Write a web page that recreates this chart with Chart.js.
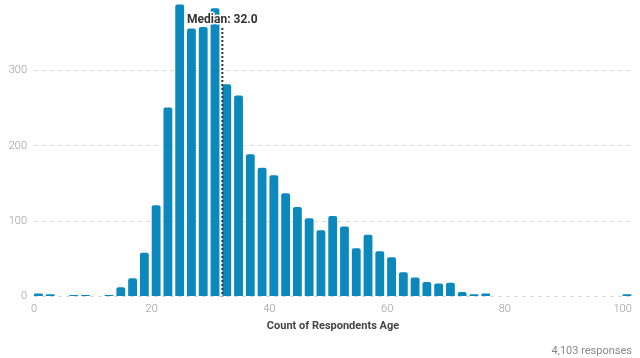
<!DOCTYPE html>
<html>
<head>
<meta charset="utf-8">
<script src="https://cdn.jsdelivr.net/npm/chart.js@4.4.0/dist/chart.umd.min.js"></script>
<style>
  html, body { margin: 0; padding: 0; background: #fff; }
  .wrap { position: relative; width: 640px; height: 358px; }
</style>
</head>
<body>
<div class="wrap"><canvas id="ageChart"></canvas></div>
<script>
// Histogram of respondent ages, bins of 2 years
const binStarts = [0, 2, 4, 6, 8, 10, 12, 14, 16, 18, 20, 22, 24, 26, 28, 30, 32, 34, 36, 38,
  40, 42, 44, 46, 48, 50, 52, 54, 56, 58, 60, 62, 64, 66, 68, 70, 72, 74, 76, 78,
  80, 82, 84, 86, 88, 90, 92, 94, 96, 98, 100];
const counts = [4, 3, 0, 2, 2, 0, 2, 12, 24, 58, 121, 251, 388, 356, 358, 383, 282, 267, 189, 171,
  161, 137, 119, 104, 88, 107, 93, 64, 82, 60, 52, 32, 25, 19, 17, 18, 6, 3, 4, 0,
  0, 0, 0, 0, 0, 0, 0, 0, 0, 0, 3];
const xTicks = [0, 20, 40, 60, 80, 100];
const yTicks = [0, 100, 200, 300];
const medianAge = 32.0;
const totalResponses = 4103;

const barColor = '#0b88bc';
const fontFamily = "Roboto, 'Noto Sans', sans-serif";

// dotted median marker with label
const medianPlugin = {
  id: 'medianLine',
  afterDatasetsDraw(chart) {
    const { ctx, chartArea, scales: { x, y } } = chart;
    const px = x.getPixelForValue(medianAge);
    ctx.save();
    ctx.strokeStyle = '#333';
    ctx.lineWidth = 2;
    ctx.setLineDash([2, 2]);
    ctx.beginPath();
    ctx.moveTo(px, chartArea.top + 28);
    ctx.lineTo(px, y.getPixelForValue(0));
    ctx.stroke();
    ctx.setLineDash([]);
    ctx.font = "bold 12px " + fontFamily;
    ctx.textAlign = 'center';
    ctx.textBaseline = 'middle';
    const label = 'Median: ' + medianAge.toFixed(1);
    ctx.strokeStyle = '#fff';
    ctx.lineWidth = 3;
    ctx.lineJoin = 'round';
    ctx.strokeText(label, px, chartArea.top + 20);
    ctx.fillStyle = '#333';
    ctx.fillText(label, px, chartArea.top + 20);
    ctx.restore();
  }
};

new Chart(document.getElementById('ageChart'), {
  type: 'bar',
  data: {
    datasets: [{
      data: binStarts.map((s, i) => ({ x: s + 0.75, y: counts[i] })),
      backgroundColor: barColor,
      borderRadius: 2,
      borderSkipped: 'bottom',
      barPercentage: 0.75,
      categoryPercentage: 1
    }]
  },
  options: {
    responsive: true,
    maintainAspectRatio: false,
    animation: false,
    layout: { padding: { left: 0, right: 8, top: 0, bottom: 0 } },
    plugins: {
      legend: { display: false },
      tooltip: { enabled: false },
      subtitle: {
        display: true,
        position: 'bottom',
        align: 'end',
        text: totalResponses.toLocaleString('en-US') + ' responses',
        color: '#888',
        font: { family: fontFamily, size: 11 },
        padding: { top: 7.5, bottom: 0.5 }
      }
    },
    scales: {
      x: {
        type: 'linear',
        min: 0,
        max: 101.6,
        offset: false,
        afterBuildTicks: s => { s.ticks = xTicks.map(v => ({ value: v })); },
        afterFit: s => {
          s.height = 40.4;
          s.paddingLeft = 0;
          s.paddingRight = 0;
        },
        grid: { display: false, drawTicks: false },
        border: { display: false },
        ticks: {
          color: '#999',
          padding: 6,
          maxRotation: 0,
          font: { family: fontFamily, size: 11, weight: 300 }
        },
        title: {
          display: true,
          text: 'Count of Respondents Age',
          color: '#444',
          font: { family: fontFamily, size: 11, weight: 'bold' },
          padding: { top: 4, bottom: 4 }
        }
      },
      y: {
        min: 0,
        max: 394,
        afterBuildTicks: s => { s.ticks = yTicks.map(v => ({ value: v })); },
        afterFit: s => {
          s.width = 34;
          s.paddingTop = 0;
          s.paddingBottom = 0;
        },
        grid: { color: '#dcdcdc', drawTicks: false },
        border: { display: false, dash: [4, 4] },
        ticks: {
          color: '#999',
          padding: 7,
          font: { family: fontFamily, size: 11, weight: 300 }
        }
      }
    }
  },
  plugins: [medianPlugin]
});
</script>
</body>
</html>
